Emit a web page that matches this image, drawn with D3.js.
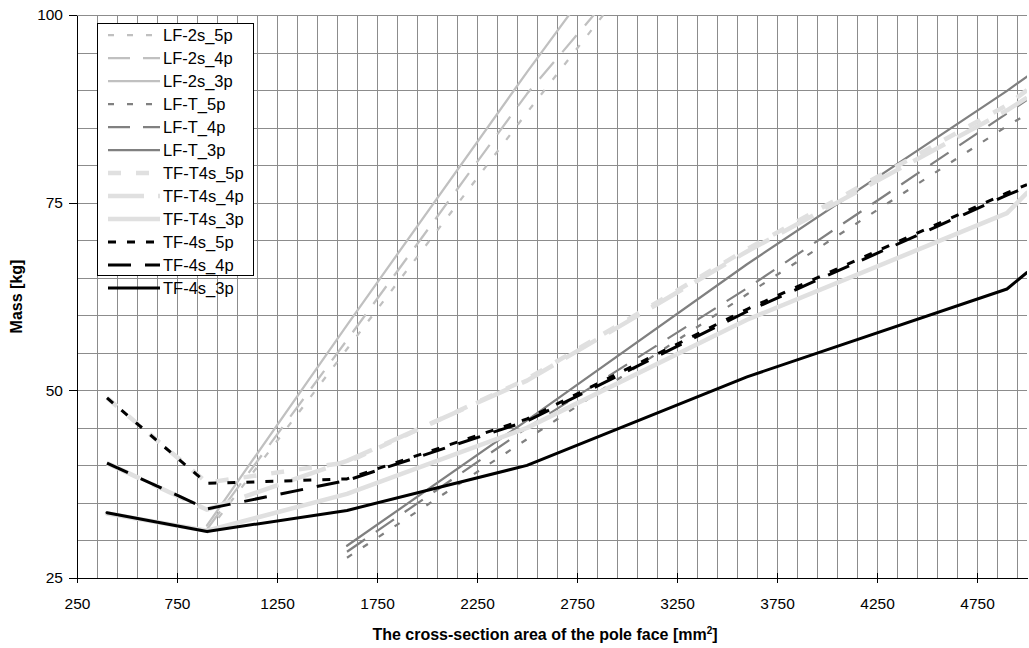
<!DOCTYPE html>
<html lang="en">
<head>
<meta charset="UTF-8">
<title>Mass vs. pole face area</title>
<script src="https://cdn.jsdelivr.net/npm/d3@7"></script>
<style>
  body { margin: 0; background: #fff; }
  text { font-family: "Liberation Sans", Arial, sans-serif; fill: #000; }
  .grid line { stroke: #8c8c8c; stroke-width: 1; shape-rendering: crispEdges; }
  .axis path, .axis line { stroke: #000; shape-rendering: crispEdges; }
  .axis text { font-size: 15.5px; font-family: "Liberation Sans", Arial, sans-serif; }
  .title { font-size: 16px; font-weight: bold; }
  .legend text { font-size: 16.5px; }
</style>
</head>
<body>
<div id="chart"></div>
<script>

// pole face areas [mm2] where the masses were read (5000 = right border of the plot)
var areas = [400, 900, 1600, 2500, 3600, 4900, 5000];

// masses [kg], one array per variant (null = no value)
var lf2s_5p = [null, 31.0, 55.5, 87.0, 124.5, null, null];
var lf2s_4p = [null, 31.5, 56.7, 89.5, 124.1, null, null];
var lf2s_3p = [null, 32.0, 58.7, 92.4, 132.2, null, null];
var lfT_5p  = [null, null, 27.7, 43.5, 62.8, 85.2, 86.8];
var lfT_4p  = [null, null, 28.5, 45.0, 63.6, 86.9, 88.7];
var lfT_3p  = [null, null, 29.3, 46.0, 66.8, 89.9, 91.8];
var tfT4s_5p = [49.0, 37.7, 40.4, 51.5, 68.8, 88.0, 90.0];
var tfT4s_4p = [40.3, 34.1, 40.6, 51.3, 68.5, 87.3, 89.0];
var tfT4s_3p = [33.6, 31.3, 36.2, 45.0, 59.4, 73.6, 76.3];
var tf4s_5p = [49.0, 37.6, 38.2, 46.2, 60.8, 76.3, 77.4];
var tf4s_4p = [40.3, 34.2, 38.0, 45.9, 60.5, 76.0, 77.1];
var tf4s_3p = [33.7, 31.2, 34.0, 40.0, 51.8, 63.5, 65.7];

var names = ["LF-2s_5p", "LF-2s_4p", "LF-2s_3p", "LF-T_5p", "LF-T_4p", "LF-T_3p",
             "TF-T4s_5p", "TF-T4s_4p", "TF-T4s_3p", "TF-4s_5p", "TF-4s_4p", "TF-4s_3p"];
var values = [lf2s_5p, lf2s_4p, lf2s_3p, lfT_5p, lfT_4p, lfT_3p,
              tfT4s_5p, tfT4s_4p, tfT4s_3p, tf4s_5p, tf4s_4p, tf4s_3p];

var xTicks = [250, 750, 1250, 1750, 2250, 2750, 3250, 3750, 4250, 4750];
var yTicks = [25, 50, 75, 100];

// line look per family and per pattern
var familyStyle = {
  "LF-2s":  { color: "#c0c0c0", width: 2.25 },
  "LF-T":   { color: "#808080", width: 2.25 },
  "TF-T4s": { color: "#e0e0e0", width: 4.5 },
  "TF-4s":  { color: "#000000", width: 3 }
};
function dashFor(name) {
  var fam = name.split("_")[0], p = name.split("_")[1];
  if (p === "3p") return null;
  if (fam === "TF-T4s") return p === "5p" ? "13,15" : "36,14";
  if (fam === "TF-4s") return p === "5p" ? "8,11" : "23,14";
  return p === "5p" ? "6,13" : "22,13";
}

var margin = {top: 15, right: 2, bottom: 70, left: 77},
    width = 1029 - margin.left - margin.right,
    height = 648 - margin.top - margin.bottom;

var svg = d3.select("#chart").append("svg")
    .attr("width", 1029)
    .attr("height", 648);

var g = svg.append("g")
    .attr("transform", "translate(" + margin.left + "," + margin.top + ")");

var x = d3.scaleLinear().domain([250, 5000]).range([0, width]);
var y = d3.scaleLinear().domain([25, 100]).range([height, 0]);

// grid
var grid = g.append("g").attr("class", "grid");
grid.selectAll(".v")
  .data(d3.range(350, 5001, 100))
  .enter().append("line")
    .attr("x1", function(d) { return Math.round(x(d)) + 0.5; })
    .attr("x2", function(d) { return Math.round(x(d)) + 0.5; })
    .attr("y1", 0)
    .attr("y2", height);
grid.selectAll(".h")
  .data(d3.range(30, 101, 5))
  .enter().append("line")
    .attr("x1", 0)
    .attr("x2", width)
    .attr("y1", function(d) { return Math.round(y(d)) + 0.5; })
    .attr("y2", function(d) { return Math.round(y(d)) + 0.5; });

g.append("clipPath").attr("id", "plot-clip")
  .append("rect").attr("width", width).attr("height", height);

var line = d3.line()
    .defined(function(d) { return d[1] != null; })
    .x(function(d) { return x(d[0]); })
    .y(function(d) { return y(d[1]); });

var series = names.map(function(n, i) {
  return { name: n, style: familyStyle[n.split("_")[0]], dash: dashFor(n),
           points: areas.map(function(a, j) { return [a, values[i][j]]; }) };
});

g.append("g")
    .attr("clip-path", "url(#plot-clip)")
  .selectAll("path")
  .data(series)
  .enter().append("path")
    .attr("d", function(d) { return line(d.points); })
    .attr("fill", "none")
    .attr("stroke", function(d) { return d.style.color; })
    .attr("stroke-width", function(d) { return d.style.width; })
    .attr("stroke-dasharray", function(d) { return d.dash; })
    .attr("stroke-linejoin", "round")
    .attr("stroke-linecap", function(d) { return d.dash ? "butt" : "round"; });

// axes
var xAxis = g.append("g")
    .attr("class", "axis")
    .attr("transform", "translate(0," + height + ")")
    .call(d3.axisBottom(x).tickValues(xTicks).tickFormat(d3.format("d"))
      .tickSize(5).tickSizeOuter(0).tickPadding(15));
xAxis.selectAll(".tick line").attr("y1", -5);

g.append("g")
    .attr("class", "axis")
    .call(d3.axisLeft(y).tickValues(yTicks).tickFormat(d3.format("d"))
      .tickSize(8).tickSizeOuter(0).tickPadding(6));

// axis titles
var xt = svg.append("text")
    .attr("class", "title")
    .attr("x", 545)
    .attr("y", 640)
    .attr("text-anchor", "middle")
    .text("The cross-section area of the pole face [mm");
xt.append("tspan").attr("dy", -6).style("font-size", "10px").text("2");
xt.append("tspan").attr("dy", 6).text("]");

svg.append("text")
    .attr("class", "title")
    .attr("transform", "translate(22," + (margin.top + height / 2) + ") rotate(-90)")
    .attr("text-anchor", "middle")
    .text("Mass [kg]");

// legend
var legend = svg.append("g").attr("class", "legend");
legend.append("rect")
    .attr("x", 97.5).attr("y", 23.5)
    .attr("width", 156).attr("height", 252)
    .attr("fill", "#fff")
    .attr("stroke", "#000")
    .attr("stroke-width", 1);

var row = legend.selectAll(".row")
  .data(series)
  .enter().append("g")
    .attr("transform", function(d, i) { return "translate(0," + (35 + 23 * i) + ")"; });
row.append("line")
    .attr("x1", 108).attr("x2", 160)
    .attr("stroke", function(d) { return d.style.color; })
    .attr("stroke-width", function(d) { return d.style.width; })
    .attr("stroke-dasharray", function(d) { return d.dash; });
row.append("text")
    .attr("x", 163)
    .attr("dy", "0.36em")
    .text(function(d) { return d.name; });

</script>
</body>
</html>
